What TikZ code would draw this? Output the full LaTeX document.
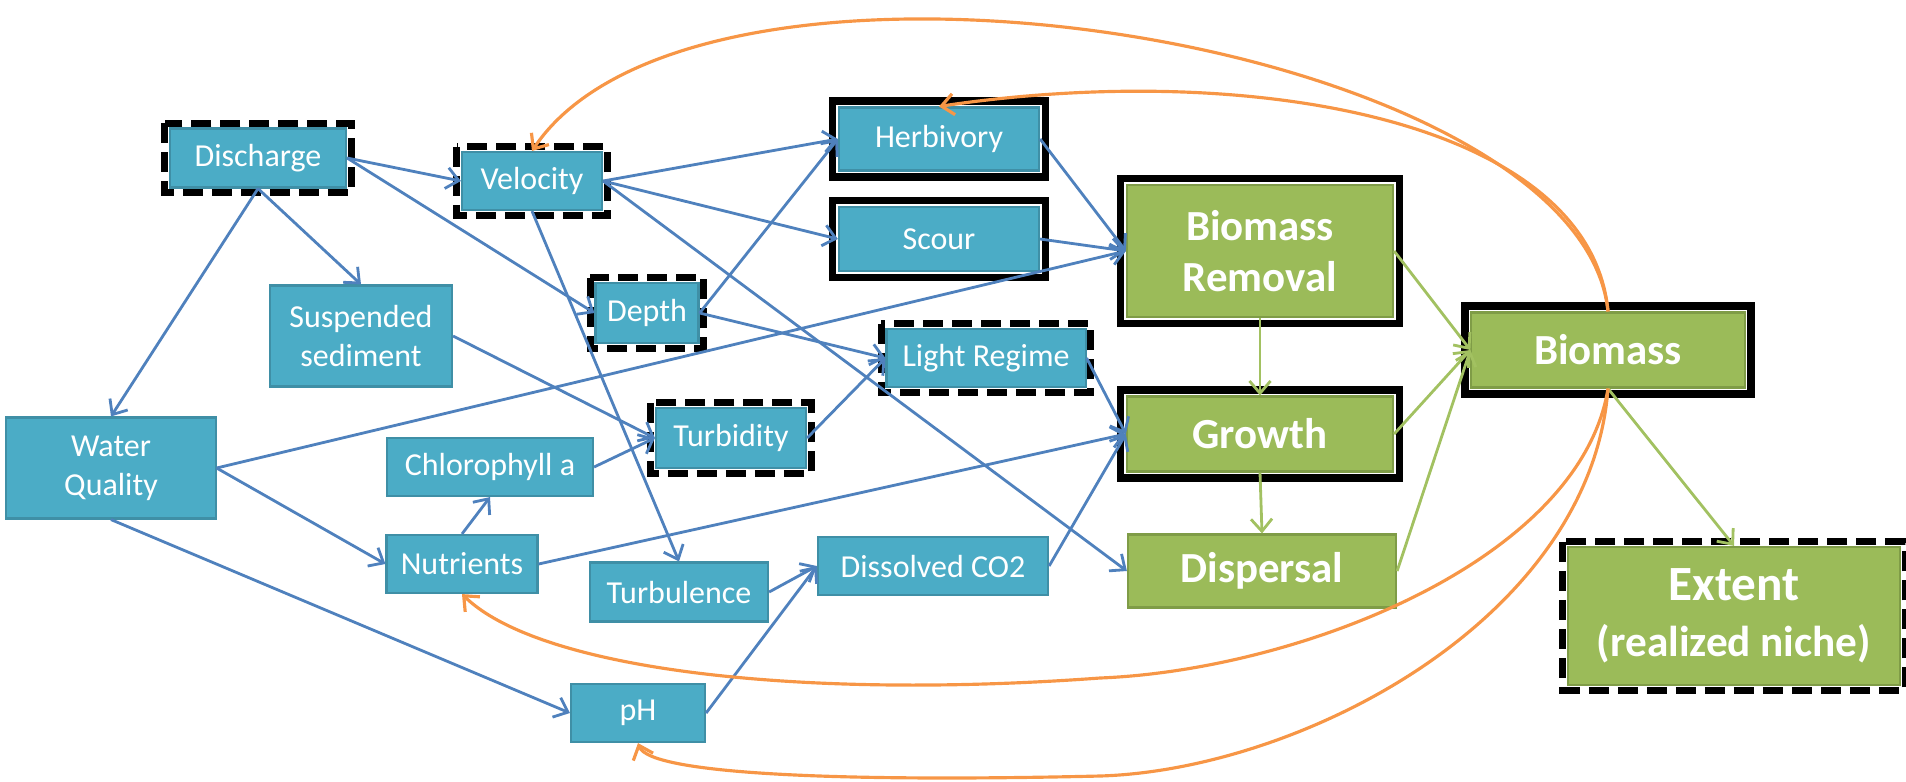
\documentclass[tikz,border=0pt]{standalone}
\usepackage{fontspec}
\setmainfont{Carlito}
\usetikzlibrary{arrows.meta}

\definecolor{bluefill}{HTML}{4BACC6}
\definecolor{blueedge}{HTML}{3F8FA6}
\definecolor{greenfill}{HTML}{9BBB59}
\definecolor{greenedge}{HTML}{7F9C47}
\definecolor{linkblue}{HTML}{4F81BD}
\definecolor{linkgreen}{HTML}{A2C161}
\definecolor{linkorange}{HTML}{F79646}

\tikzset{
  bbox/.style={draw=blueedge, line width=0.6pt, fill=bluefill, text=white,
    inner sep=0pt, align=center, font=\fontsize{9.1}{11}\selectfont},
  gbox/.style={draw=greenedge, line width=0.6pt, fill=greenfill, text=white,
    inner sep=0pt, align=center, font=\bfseries\fontsize{12.2}{14.6}\selectfont},
  dashfrm/.style={draw=black, line width=0.07cm, dash pattern=on 0.2cm off 0.09cm},
  solidfrm/.style={draw=black, line width=0.075cm},
  blink/.style={linkblue, line width=0.8pt, -{Straight Barb[length=3.5pt,width=6pt]}},
  glink/.style={linkgreen, line width=0.8pt, -{Straight Barb[length=3.5pt,width=6pt]}},
  olink/.style={linkorange, line width=0.9pt, -{Straight Barb[length=3.5pt,width=6pt]}},
}

\begin{document}
\begin{tikzpicture}[x=0.01cm, y=-0.01cm]
  \useasboundingbox (0,0) rectangle (1906,781);
  % Physical drivers
  \node[bbox, minimum width=1.76cm, minimum height=0.59cm] (discharge) at (258,158) {Discharge};
  \node[bbox, minimum width=1.40cm, minimum height=0.58cm] (velocity) at (532,181) {Velocity};
  \node[bbox, minimum width=1.03cm, minimum height=0.60cm] (depth) at (647,313) {Depth};
  \node[bbox, minimum width=1.82cm, minimum height=1.01cm] (sediment) at (361,336) {Suspended\\sediment};
  \node[bbox, minimum width=2.09cm, minimum height=1.01cm] (quality) at (111,468) {Water\\Quality};
  \node[bbox, minimum width=2.06cm, minimum height=0.58cm] (chloro) at (490,467) {Chlorophyll a};
  \node[bbox, minimum width=1.50cm, minimum height=0.60cm] (turbidity) at (731,438) {Turbidity};
  \node[bbox, minimum width=1.51cm, minimum height=0.58cm] (nutrients) at (462,564) {Nutrients};
  \node[bbox, minimum width=1.78cm, minimum height=0.59cm] (turbulence) at (679,592) {Turbulence};
  \node[bbox, minimum width=1.34cm, minimum height=0.58cm] (ph) at (638,713) {pH};
  \node[bbox, minimum width=2.30cm, minimum height=0.58cm] (co2) at (933,566) {Dissolved CO2};
  \node[bbox, minimum width=2.00cm, minimum height=0.63cm] (herbivory) at (939,139) {Herbivory};
  \node[bbox, minimum width=2.00cm, minimum height=0.64cm] (scour) at (939,239) {Scour};
  \node[bbox, minimum width=1.99cm, minimum height=0.58cm] (light) at (986,358) {Light Regime};
  % Plant responses
  \node[gbox, minimum width=2.66cm, minimum height=1.32cm] (removal) at (1260,251) {Biomass\\Removal};
  \node[gbox, minimum width=2.66cm, minimum height=0.75cm] (growth) at (1260,434) {Growth};
  \node[gbox, minimum width=2.68cm, minimum height=0.73cm] (dispersal) at (1262,571) {Dispersal};
  \node[gbox, minimum width=2.73cm, minimum height=0.75cm] (biomass) at (1608,350) {Biomass};
  \node[gbox, minimum width=3.32cm, minimum height=1.38cm, font=\bfseries\fontsize{12.3}{16}\selectfont]
    (extent) at (1734,616) {{\fontsize{14}{16}\selectfont Extent}\\(realized niche)};
  % Frames
  \foreach \n in {herbivory,scour,removal,growth,biomass}
    \draw[solidfrm] ([shift={(-5.5,-5.5)}]\n.north west) rectangle ([shift={(5.5,5.5)}]\n.south east);
  \foreach \n in {discharge,velocity,depth,light,turbidity,extent}
    \draw[dashfrm] ([shift={(-4,-4)}]\n.north west) rectangle ([shift={(4,4)}]\n.south east);
  % Blue links
  \foreach \a/\b in {discharge.east/velocity.west, discharge.east/depth.west,
      discharge.south/sediment.north, discharge.south/quality.north,
      velocity.east/herbivory.west, velocity.east/scour.west,
      velocity.east/dispersal.west, velocity.south/turbulence.north,
      depth.east/herbivory.west, depth.east/light.west,
      sediment.east/turbidity.west, chloro.east/turbidity.west,
      turbidity.east/light.west, quality.east/removal.west,
      quality.east/nutrients.west, quality.south/ph.west,
      nutrients.north/chloro.south, nutrients.east/growth.west,
      turbulence.east/co2.west, ph.east/co2.west, co2.east/growth.west,
      herbivory.east/removal.west, scour.east/removal.west, light.east/growth.west}
    \draw[blink] (\a) -- (\b);
  % Green links
  \foreach \a/\b in {removal.south/growth.north, growth.south/dispersal.north,
      removal.east/biomass.west, growth.east/biomass.west,
      dispersal.east/biomass.west, biomass.south/extent.north}
    \draw[glink] (\a) -- (\b);
  % Feedback from biomass
  \draw[olink] (biomass.north) .. controls (1580,40) and (700,-100) .. (velocity.north);
  \draw[olink] (biomass.north) .. controls (1590,120) and (1250,60) .. (herbivory.north);
  \draw[olink] (biomass.south) .. controls (1580,560) and (1300,670) .. (1100,678)
    .. controls (800,700) and (540,670) .. (nutrients.south);
  \draw[olink] (biomass.south) .. controls (1590,620) and (1300,770) .. (1100,776)
    .. controls (850,782) and (650,775) .. (ph.south);
\end{tikzpicture}
\end{document}
